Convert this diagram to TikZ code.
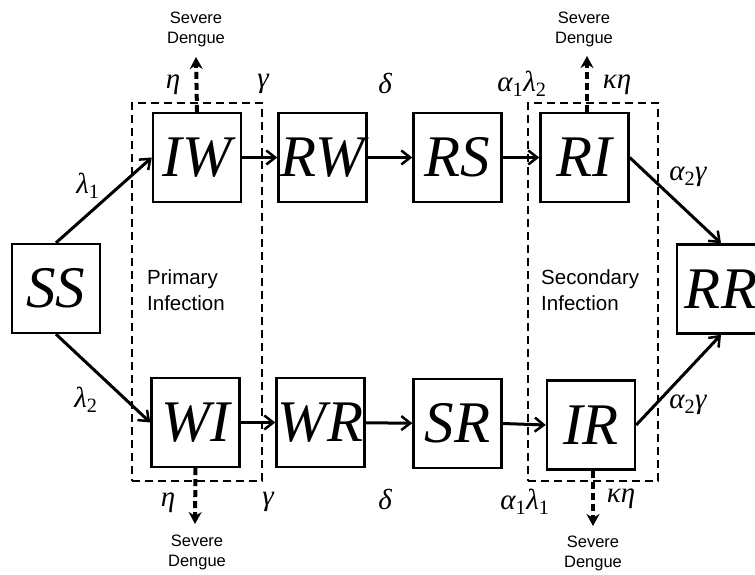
\documentclass[tikz,border=0pt]{standalone}
\usepackage{fontspec}
\setmainfont{Liberation Serif}
\setsansfont{Liberation Sans}
\usetikzlibrary{arrows.meta}
\begin{document}
\begin{tikzpicture}[x=1pt,y=-1pt,
 box/.style={draw,line width=2.4pt,minimum width=88pt,minimum height=89pt,inner sep=0pt,font=\fontsize{59}{59}\selectfont\itshape},
 conn/.style={line width=3pt,-{Straight Barb[length=9pt,width=14pt,line width=2.5pt]}},
 sev/.style={line width=4pt,dash pattern=on 7pt off 4pt,-{Stealth[length=12pt,width=13pt]}},
 grp/.style={draw,line width=1.8pt,dash pattern=on 8pt off 5pt,inner sep=0pt},
 rate/.style={font=\fontsize{29}{29}\selectfont\itshape,inner sep=0pt},
 note/.style={font=\sffamily\fontsize{16.5}{20}\selectfont,align=center,inner sep=0pt},
 grpt/.style={font=\sffamily\fontsize{20.5}{26}\selectfont,align=left,inner sep=0pt,anchor=west}]
\useasboundingbox (0,0) rectangle (755,574);
\clip (0,0) rectangle (755,574);
% groups
\node[grp,minimum width=130pt,minimum height=378pt] (prim) at (197,292) {};
\node[grp,minimum width=130pt,minimum height=378pt] (sec) at (593,292) {};
\node[grpt] (primt) at (147,290) {Primary\\Infection};
\node[grpt] (sect) at (541,290) {Secondary\\Infection};
% boxes
\node[box] (SS) at (56,288.5) {SS};
\node[box] (IW) at (197,157.5) {IW};
\node[box] (RW) at (322.5,157.5) {RW};
\node[box] (RS) at (457.5,157.5) {RS};
\node[box] (RI) at (584.5,157.5) {RI};
\node[box] (RR) at (721,289) {RR};
\node[box] (WI) at (195.5,422.5) {WI};
\node[box] (WR) at (320.5,422.5) {WR};
\node[box] (SR) at (457.5,423.5) {SR};
\node[box] (IR) at (591,425) {IR};
% connectors
\draw[conn] (SS.north) -- (IW.west);
\draw[conn] (SS.south) -- (WI.west);
\draw[conn] (IW) -- (RW);
\draw[conn] (RW) -- (RS);
\draw[conn] (RS) -- (RI);
\draw[conn] (WI) -- (WR);
\draw[conn] (WR) -- (SR);
\draw[conn] (SR.east) -- (IR.west);
\draw[conn] (RI.east) -- (RR.north);
\draw[conn] (IR.east) -- (RR.south);
% severe dengue
\coordinate (s1) at (196,57);
\coordinate (s2) at (587,56);
\coordinate (s3) at (195,524);
\coordinate (s4) at (593,526);
\draw[sev] (IW.north) -- (s1);
\draw[sev] (RI.north -| s2) -- (s2);
\draw[sev] (WI.south) -- (s3);
\draw[sev] (IR.south -| s4) -- (s4);
\node[note] (n1) at (196,29) {Severe\\Dengue};
\node[note] (n2) at (584,29) {Severe\\Dengue};
\node[note] (n3) at (197,552) {Severe\\Dengue};
\node[note] (n4) at (593,553) {Severe\\Dengue};
% rates
\node[rate] (l1) at (88,186) {λ\textsubscript{\upshape 1}};
\node[rate] (l2) at (86,400) {λ\textsubscript{\upshape 2}};
\node[rate] (e1) at (173,85) {η};
\node[rate] (g1) at (263,84) {γ};
\node[rate] (d1) at (385,84) {δ};
\node[rate] (al2) at (522,84) {α\textsubscript{\upshape 1}λ\textsubscript{\upshape 2}};
\node[rate] (k1) at (617,85) {κη};
\node[rate] (ag1) at (688,177) {α\textsubscript{\upshape 2}γ};
\node[rate] (e2) at (168,503) {η};
\node[rate] (g2) at (268,502) {γ};
\node[rate] (d2) at (385,500) {δ};
\node[rate] (al1) at (525,502) {α\textsubscript{\upshape 1}λ\textsubscript{\upshape 1}};
\node[rate] (k2) at (621,499) {κη};
\node[rate] (ag2) at (688,405) {α\textsubscript{\upshape 2}γ};
\end{tikzpicture}
\end{document}
